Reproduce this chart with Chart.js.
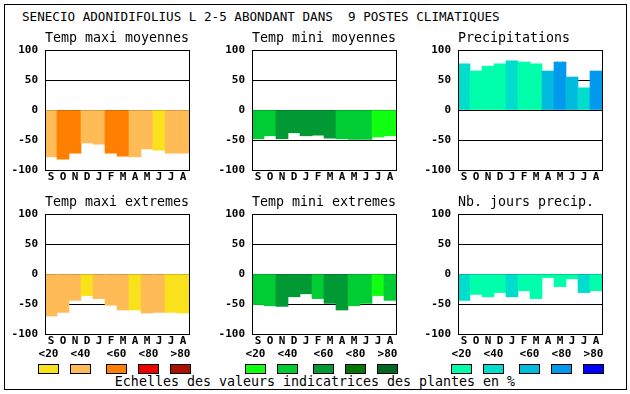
<!DOCTYPE html>
<html>
<head>
<meta charset="utf-8">
<script src="https://cdn.jsdelivr.net/npm/chart.js@4.4.0/dist/chart.umd.min.js"></script>
<style>
  body { margin: 0; background: #fff; width: 630px; height: 394px; position: relative; overflow: hidden;
         font-family: "DejaVu Sans Mono", monospace; color: #000; }
  #frame { position: absolute; left: 4px; top: 4px; width: 621px; height: 384px; border: 1px solid #000; }
  #title { position: absolute; left: 22px; top: 10px; font-size: 12.6px; line-height: 14px; white-space: pre; }
  #footer { position: absolute; left: 0; width: 630px; top: 374px; font-size: 13.3px; line-height: 16px; text-align: center; white-space: pre; }
  .lbl { position: absolute; top: 348px; width: 30px; text-align: center; font-size: 11px; font-weight: bold; line-height: 12px; }
  .sw { position: absolute; top: 364px; width: 21px; height: 10px; box-sizing: border-box; border: 1px solid #000; }
  canvas { position: absolute; }
</style>
</head>
<body>
<div id="frame"></div>
<div id="title">SENECIO ADONIDIFOLIUS L 2-5 ABONDANT DANS  9 POSTES CLIMATIQUES</div>
<div id="footer">Echelles des valeurs indicatrices des plantes en %</div>
<script>
// months, Sept -> Aug
const months = ['S', 'O', 'N', 'D', 'J', 'F', 'M', 'A', 'M', 'J', 'J', 'A'];

// bar values (negative = below zero line)
const tmaxMoy = [-78, -82, -72, -55, -57, -72, -77, -78, -65, -67, -72, -72];
const tminMoy = [-48, -43, -48, -38, -43, -42, -47, -48, -49, -49, -45, -43];
const precip = [77, 65, 73, 77, 82, 80, 77, 65, 80, 55, 37, 65];
const tmaxExt = [-70, -64, -44, -36, -41, -52, -60, -60, -65, -64, -64, -65];
const tminExt = [-51, -53, -54, -38, -33, -41, -49, -60, -53, -49, -36, -44];
const nbJours = [-44, -34, -38, -31, -38, -28, -41, -6, -21, -8, -31, -28];

// indicator class of each bar (0: <20 ... 4: >80)
const tmaxMoyCls = [1, 2, 2, 1, 1, 2, 2, 1, 1, 0, 1, 1];
const tminMoyCls = [1, 1, 2, 2, 2, 2, 2, 1, 1, 1, 0, 0];
const precipCls = [1, 0, 0, 0, 1, 0, 0, 2, 3, 2, 1, 3];
const tmaxExtCls = [1, 1, 1, 0, 1, 1, 1, 0, 1, 1, 0, 0];
const tminExtCls = [1, 1, 2, 2, 2, 1, 2, 2, 1, 1, 0, 1];
const nbJoursCls = [1, 0, 0, 0, 1, 0, 0, 0, 0, 0, 1, 0];

const classLabels = ['<20', '<40', '<60', '<80', '>80'];
const yMin = -100, yMax = 100, yStep = 50;

const orangeScale = ['#F9E11C', '#FFBB55', '#FF8000', '#EE0000', '#AA1100'];
const greenScale = ['#11FF11', '#00CC33', '#009933', '#007700', '#006622'];
const blueScale = ['#00FFAA', '#00DDCC', '#00BBDD', '#0099EE', '#0000FF'];

const panels = [
    { title: 'Temp maxi moyennes', values: tmaxMoy, cls: tmaxMoyCls, palette: orangeScale, x: 45, y: 50 },
    { title: 'Temp mini moyennes', values: tminMoy, cls: tminMoyCls, palette: greenScale, x: 252, y: 50 },
    { title: 'Precipitations', values: precip, cls: precipCls, palette: blueScale, x: 458, y: 50 },
    { title: 'Temp maxi extremes', values: tmaxExt, cls: tmaxExtCls, palette: orangeScale, x: 45, y: 214 },
    { title: 'Temp mini extremes', values: tminExt, cls: tminExtCls, palette: greenScale, x: 252, y: 214 },
    { title: 'Nb. jours precip.', values: nbJours, cls: nbJoursCls, palette: blueScale, x: 458, y: 214 }
];

const AXIS_W = 42, TOP_PAD = 24, X_AXIS_H = 20, PLOT_W = 144, PLOT_H = 120;
const tickFont = { family: 'DejaVu Sans Mono', size: 11, weight: 'bold' };

// box round the plot area + panel title above it
const panelDeco = {
    id: 'panelDeco',
    afterDraw(chart, args, opts) {
        const { ctx, chartArea: a } = chart;
        ctx.save();
        ctx.strokeStyle = '#000';
        ctx.lineWidth = 1;
        ctx.strokeRect(Math.round(a.left) + 0.5, Math.round(a.top) + 0.5,
                       Math.round(a.right - a.left), Math.round(a.bottom - a.top));
        ctx.fillStyle = '#000';
        ctx.font = '13.3px "DejaVu Sans Mono"';
        ctx.textAlign = 'left';
        ctx.textBaseline = 'middle';
        ctx.fillText(opts.text, a.left, a.top - 11.5);
        ctx.restore();
    }
};

panels.forEach(p => {
    const canvas = document.createElement('canvas');
    canvas.width = AXIS_W + PLOT_W + 4;
    canvas.height = TOP_PAD + PLOT_H + X_AXIS_H;
    canvas.style.left = (p.x - AXIS_W) + 'px';
    canvas.style.top = (p.y - TOP_PAD) + 'px';
    document.body.appendChild(canvas);

    new Chart(canvas, {
        type: 'bar',
        data: {
            labels: months,
            datasets: [{
                data: p.values,
                backgroundColor: p.cls.map(c => p.palette[c]),
                borderWidth: 0,
                barPercentage: 1,
                categoryPercentage: 1
            }]
        },
        options: {
            responsive: false,
            animation: false,
            devicePixelRatio: 1,
            layout: { padding: { top: TOP_PAD, right: 4, left: 0, bottom: 0 } },
            plugins: {
                legend: { display: false },
                tooltip: { enabled: false },
                panelDeco: { text: p.title }
            },
            scales: {
                x: {
                    grid: { display: false, drawTicks: false },
                    border: { display: false },
                    ticks: { font: tickFont, color: '#000', padding: 1, autoSkip: false, maxRotation: 0 },
                    afterFit: s => { s.height = X_AXIS_H; }
                },
                y: {
                    min: yMin,
                    max: yMax,
                    z: 1,
                    grid: { color: '#000', lineWidth: 1, drawTicks: false },
                    border: { display: false },
                    ticks: { stepSize: yStep, font: tickFont, color: '#000', padding: 7 },
                    afterFit: s => { s.width = AXIS_W; }
                }
            }
        },
        plugins: [panelDeco]
    });

    // legend under the bottom row of panels
    if (p.y > 100) {
        const offsets = [-7, 25, 61, 93, 125];
        classLabels.forEach((lab, i) => {
            const l = document.createElement('div');
            l.className = 'lbl';
            l.textContent = lab;
            l.style.left = (p.x + offsets[i] + 10.5 - 15) + 'px';
            document.body.appendChild(l);
            const s = document.createElement('div');
            s.className = 'sw';
            s.style.left = (p.x + offsets[i]) + 'px';
            s.style.background = p.palette[i];
            document.body.appendChild(s);
        });
    }
});
</script>
</body>
</html>
